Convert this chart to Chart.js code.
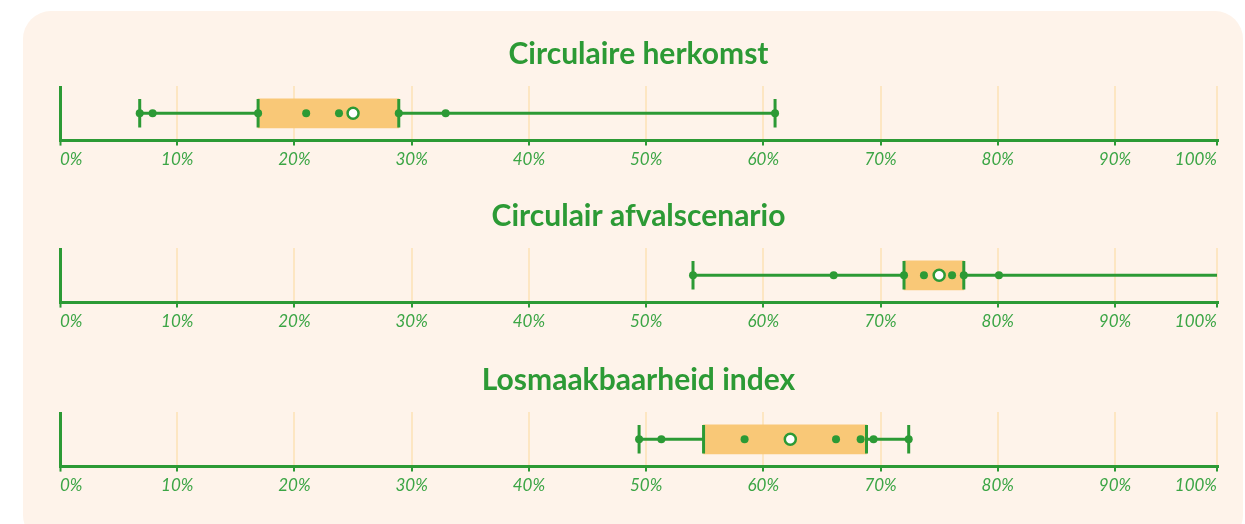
<!DOCTYPE html>
<html><head><meta charset="utf-8">
<script src="https://cdn.jsdelivr.net/npm/chart.js@4/dist/chart.umd.min.js"></script>
<style>
body{margin:0;background:#ffffff;width:1245px;height:524px;overflow:hidden;position:relative;}
#card{position:absolute;left:23px;top:11px;width:1220px;height:532px;background:#fef3ea;border-radius:28px;}
canvas{position:absolute;left:0;}
</style></head><body>
<div id="card"></div>
<canvas id="c0" width="1245" height="174" style="top:0px"></canvas>
<canvas id="c1" width="1245" height="174" style="top:162px"></canvas>
<canvas id="c2" width="1245" height="174" style="top:326px"></canvas>
<script>
// ---- data ----
const titles = ['Circulaire herkomst', 'Circulair afvalscenario', 'Losmaakbaarheid index'];
const herkomstPoints = [6.8, 7.9, 16.9, 21.0, 23.8, 28.9, 32.9, 61.0];
const herkomstBox = [6.8, 16.9, 28.9, 61.0];   // min, q1, q3, max
const herkomstMean = 25.0;
const afvalPoints = [54.0, 66.0, 72.0, 73.7, 76.1, 77.1, 80.1, 100];
const afvalBox = [54.0, 72.0, 77.1, 100];
const afvalMean = 75.0;
const losmaakPoints = [49.4, 51.3, 58.4, 66.2, 68.3, 69.4, 72.4];
const losmaakBox = [49.4, 54.9, 68.8, 72.4];
const losmaakMean = 62.3;
const tickValues = [0, 10, 20, 30, 40, 50, 60, 70, 80, 90, 98.7];
const tickLabels = ['0%', '10%', '20%', '30%', '40%', '50%', '60%', '70%', '80%', '90%', '100%'];
const axisMax = 98.7;

const GREEN = '#2c9a35';
const TICKGREEN = '#3ba545';
const GRID = '#fde6c2';
const BOXFILL = '#f9c877';

function makeChart(id, title, points, box, mean) {
  const [mn, q1, q3, mx] = box;
  new Chart(document.getElementById(id), {
    type: 'bar',
    data: {
      labels: [''],
      datasets: [
        { type: 'scatter', order: 0, data: [{x: mean, y: 0}], pointStyle: 'circle', pointRadius: 5.5,
          backgroundColor: '#ffffff', borderColor: GREEN, borderWidth: 2.5 },
        { type: 'scatter', order: 1, data: points.map(v => ({x: v, y: 0})), pointStyle: 'circle', pointRadius: 4,
          backgroundColor: GREEN, borderWidth: 0 },
        { type: 'scatter', order: 2, clip: 0, data: [mn, q1, q3, mx].map(v => ({x: v, y: 0})), pointStyle: 'line',
          rotation: 90, pointRadius: 14.3, borderColor: GREEN, backgroundColor: GREEN, borderWidth: 3 },
        { type: 'bar', order: 3, data: [[q1, q3]], backgroundColor: BOXFILL, borderWidth: 0, barThickness: 29 },
        { type: 'line', order: 4, clip: 0, data: [{x: mn, y: 0}, {x: mx, y: 0}], borderColor: GREEN, borderWidth: 3,
          pointRadius: 0, fill: false }
      ]
    },
    options: {
      indexAxis: 'y',
      responsive: false,
      animation: false,
      layout: { padding: { left: 60, right: 28, top: 0, bottom: 0 } },
      plugins: {
        legend: { display: false },
        tooltip: { enabled: false },
        title: { display: true, text: title, color: GREEN,
          font: { family: 'Lato', weight: 'bold', size: 30 }, padding: { top: 36, bottom: 14 } }
      },
      scales: {
        y: { type: 'category', display: false },
        x: {
          type: 'linear', min: 0, max: axisMax,
          afterBuildTicks: s => { s.ticks = tickValues.map(v => ({ value: v })); },
          grid: {
            color: c => (c.tick && c.tick.value === 0) ? GREEN : GRID,
            lineWidth: c => (c.tick && c.tick.value === 0) ? 3 : 2,
            tickColor: GREEN, tickLength: 5, tickWidth: 2
          },
          border: { color: GREEN, width: 3 },
          ticks: {
            align: 'inner', color: TICKGREEN, padding: 4,
            font: { family: 'Lato', style: 'italic', size: 17 },
            callback: (v, i) => tickLabels[i]
          }
        }
      }
    }
  });
}
makeChart('c0', titles[0], herkomstPoints, herkomstBox, herkomstMean);
makeChart('c1', titles[1], afvalPoints, afvalBox, afvalMean);
makeChart('c2', titles[2], losmaakPoints, losmaakBox, losmaakMean);
</script>
</body></html>
